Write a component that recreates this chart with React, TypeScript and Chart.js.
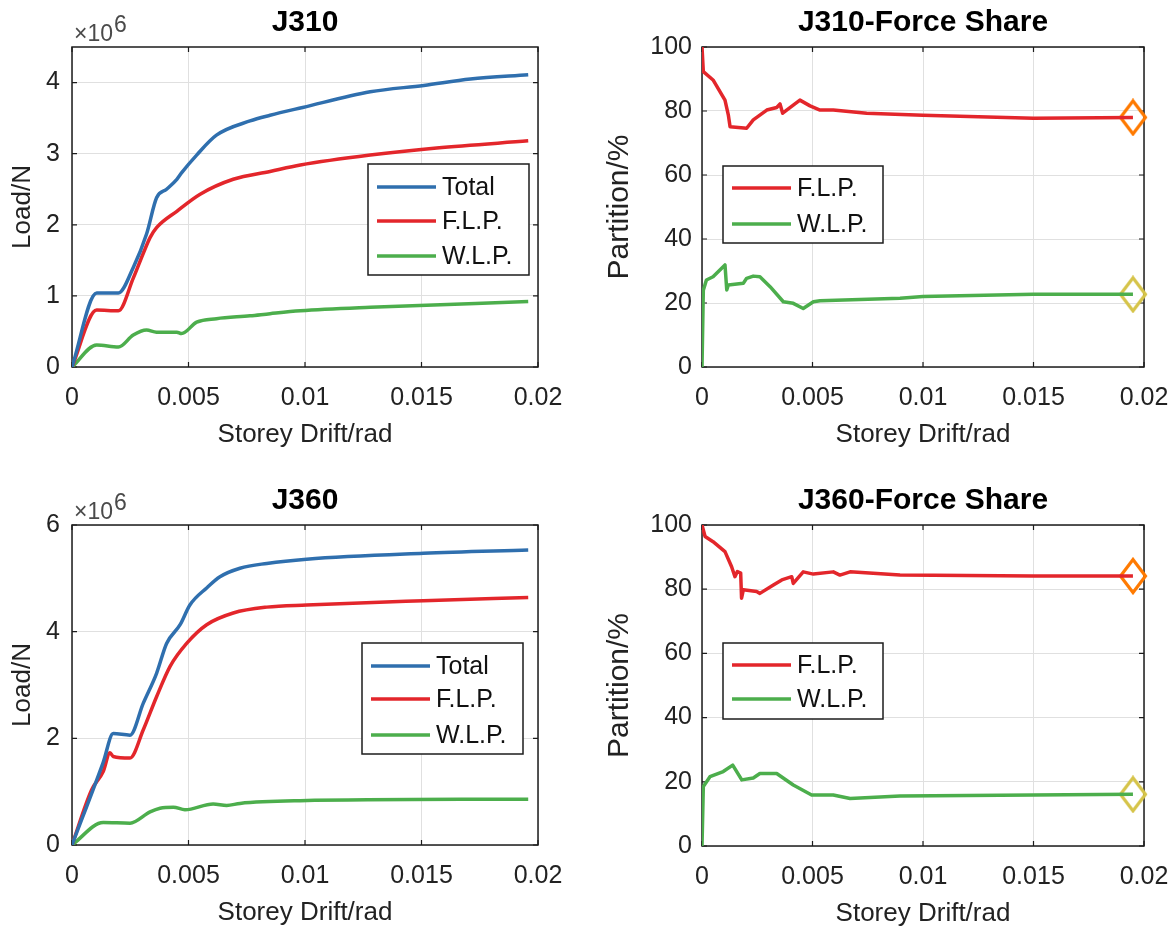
import React, { useEffect, useRef } from "react";
import { Chart, registerables } from "chart.js";

Chart.register(...registerables);

const FONT = "'Liberation Sans', Arial, Helvetica, sans-serif";

// ---------- colours ----------
const BLUE = "#2f6fae";
const RED = "#e3262b";
const GREEN = "#4cae4c";
const ORANGE = "#ff7a00";
const YELLOW = "#d6c44a";

// ---------- shared axis ticks ----------
const driftTicks = [0, 0.005, 0.01, 0.015, 0.02];
const driftTickLabels = ["0", "0.005", "0.01", "0.015", "0.02"];
const j310LoadTicks = [0, 1, 2, 3, 4];
const j360LoadTicks = [0, 2, 4, 6];
const shareTicks = [0, 20, 40, 60, 80, 100];

// ---------- J310 load (x10^6 N) ----------
const j310TotalDrift = [0, 0.00106, 0.00199, 0.00263, 0.0032, 0.00363, 0.00406, 0.0045, 0.0047, 0.00535, 0.0062, 0.00764, 0.0085, 0.0099, 0.0128, 0.0151, 0.0171, 0.01958];
const j310TotalLoad = [0, 1.04, 1.04, 1.4, 1.87, 2.38, 2.5, 2.64, 2.73, 2.98, 3.26, 3.46, 3.54, 3.65, 3.87, 3.96, 4.05, 4.11];
const j310FlpDrift = [0, 0.00106, 0.00199, 0.00263, 0.00306, 0.00335, 0.00363, 0.0045, 0.0055, 0.00692, 0.0085, 0.0098, 0.0128, 0.01565, 0.01958];
const j310FlpLoad = [0, 0.8, 0.79, 1.25, 1.6, 1.82, 1.96, 2.19, 2.43, 2.64, 2.75, 2.84, 2.98, 3.08, 3.18];
const j310WlpDrift = [0, 0.00106, 0.00199, 0.00263, 0.0032, 0.00363, 0.0045, 0.0047, 0.00535, 0.0062, 0.00764, 0.0085, 0.0098, 0.0128, 0.01958];
const j310WlpLoad = [0, 0.31, 0.28, 0.45, 0.52, 0.49, 0.49, 0.47, 0.63, 0.68, 0.72, 0.75, 0.79, 0.84, 0.92];

// ---------- J360 load (x10^6 N) ----------
const j360TotalDrift = [0, 0.00134, 0.00177, 0.00249, 0.00306, 0.00363, 0.00406, 0.00464, 0.00506, 0.00578, 0.00635, 0.00721, 0.00836, 0.01007, 0.01508, 0.01958];
const j360TotalLoad = [0, 1.55, 2.09, 2.06, 2.66, 3.22, 3.78, 4.13, 4.5, 4.82, 5.03, 5.19, 5.28, 5.36, 5.47, 5.53];
const j360FlpDrift = [0, 0.00084, 0.00134, 0.00163, 0.00177, 0.00249, 0.00306, 0.00363, 0.00421, 0.00492, 0.00578, 0.00692, 0.00836, 0.01007, 0.01508, 0.01958];
const j360FlpLoad = [0, 1.03, 1.38, 1.73, 1.66, 1.63, 2.16, 2.78, 3.35, 3.78, 4.13, 4.35, 4.46, 4.5, 4.58, 4.64];
const j360WlpDrift = [0, 0.00134, 0.00249, 0.00335, 0.00378, 0.00435, 0.00485, 0.00606, 0.00664, 0.00721, 0.0098, 0.01958];
const j360WlpLoad = [0, 0.42, 0.41, 0.62, 0.69, 0.71, 0.66, 0.77, 0.74, 0.78, 0.83, 0.86];

// ---------- J310 force share (%) ----------
const j310ShareFlpDrift = [0, 0.00006, 0.0005, 0.00104, 0.00119, 0.00127, 0.00202, 0.00232, 0.00293, 0.00338, 0.00353, 0.00365, 0.00383, 0.00443, 0.00489, 0.00534, 0.00594, 0.00745, 0.01, 0.015, 0.0195];
const j310ShareFlp = [100, 92.3, 89.7, 83.4, 78.8, 75.1, 74.6, 77.2, 80.3, 81.1, 82.2, 79.3, 80.3, 83.4, 81.6, 80.3, 80.3, 79.3, 78.7, 77.7, 78.0];
const j310ShareWlpDrift = [0, 0.00006, 0.0002, 0.0005, 0.00104, 0.00112, 0.00119, 0.00187, 0.00202, 0.00232, 0.00262, 0.00308, 0.00368, 0.00413, 0.00458, 0.00504, 0.00534, 0.00896, 0.01, 0.015, 0.0195];
const j310ShareWlp = [0, 24, 27.2, 28.2, 31.9, 24.1, 25.6, 26.2, 27.7, 28.4, 28.2, 25.1, 20.4, 19.9, 18.3, 20.4, 20.7, 21.5, 22.0, 22.7, 22.7];

// ---------- J360 force share (%) ----------
const j360ShareFlpDrift = [0, 0.00014, 0.0005, 0.00104, 0.00134, 0.00149, 0.0016, 0.00175, 0.00179, 0.00187, 0.00247, 0.00262, 0.00323, 0.00361, 0.00406, 0.00413, 0.00458, 0.00504, 0.00594, 0.00624, 0.0067, 0.00896, 0.015, 0.0195];
const j360ShareFlp = [100, 96.4, 94.8, 91.7, 87.0, 83.9, 85.5, 85.0, 77.2, 79.8, 79.3, 78.7, 81.3, 82.9, 83.9, 81.8, 85.4, 84.7, 85.4, 84.4, 85.4, 84.4, 84.1, 84.1];
const j360ShareWlpDrift = [0, 0.00006, 0.00036, 0.00096, 0.00139, 0.0018, 0.00232, 0.00262, 0.00338, 0.00413, 0.00496, 0.00594, 0.0067, 0.00896, 0.0195];
const j360ShareWlp = [0, 18.5, 21.6, 23.2, 25.2, 20.6, 21.2, 22.6, 22.6, 19.0, 15.9, 15.9, 14.8, 15.6, 16.1];

type Series = { label: string; drift: number[]; values: number[]; color: string };
type Marker = { series: Series; color: string };
type LegendBox = { x: number; y: number; w: number; h: number; rows: number[] };
type PanelProps = {
  left: number;
  top: number;
  width: number;
  height: number;
  area: { l: number; t: number; r: number; b: number };
  title: string;
  yTitle: string;
  yTitleSize: number;
  yTitlePad: number;
  yTickPad: number;
  yMax: number;
  yStep: number;
  yTicks: number[];
  exponent?: string;
  smooth?: boolean;
  series: Series[];
  markers?: Marker[];
  legend: LegendBox;
};

function diamond(color: string): HTMLCanvasElement {
  const c = document.createElement("canvas");
  c.width = 30;
  c.height = 38;
  const g = c.getContext("2d")!;
  g.strokeStyle = color;
  g.lineWidth = 3.2;
  g.lineJoin = "miter";
  g.beginPath();
  g.moveTo(15, 2.5);
  g.lineTo(27.5, 19);
  g.lineTo(15, 35.5);
  g.lineTo(2.5, 19);
  g.closePath();
  g.stroke();
  return c;
}

function Panel(p: PanelProps) {
  const ref = useRef<HTMLCanvasElement>(null);
  useEffect(() => {
    const canvas = ref.current!;
    const datasets: any[] = p.series.map((s) => ({
      label: s.label,
      data: s.drift.map((d, i) => ({ x: d, y: s.values[i] })),
      showLine: true,
      borderColor: s.color,
      backgroundColor: s.color,
      borderWidth: 3.5,
      pointRadius: 0,
      tension: p.smooth ? 0.4 : 0,
      cubicInterpolationMode: p.smooth ? "monotone" : "default",
      borderJoinStyle: "round",
      fill: false,
    }));
    (p.markers || []).forEach((m) => {
      const n = m.series.drift.length - 1;
      datasets.push({
        label: m.series.label + " end",
        data: [{ x: m.series.drift[n], y: m.series.values[n] }],
        showLine: false,
        pointStyle: diamond(m.color),
        pointRadius: 14,
        borderColor: m.color,
        backgroundColor: "rgba(0,0,0,0)",
        clip: false,
      });
    });

    const frame = {
      id: "frame",
      beforeDatasetsDraw(chart: any) {
        const { ctx, chartArea: a, scales } = chart;
        ctx.save();
        ctx.strokeStyle = "#1c1c1c";
        ctx.lineWidth = 1.5;
        ctx.strokeRect(a.left, a.top, a.right - a.left, a.bottom - a.top);
        ctx.lineWidth = 1.2;
        ctx.beginPath();
        driftTicks.forEach((v) => {
          const px = scales.x.getPixelForValue(v);
          ctx.moveTo(px, a.bottom);
          ctx.lineTo(px, a.bottom - 5);
          ctx.moveTo(px, a.top);
          ctx.lineTo(px, a.top + 5);
        });
        p.yTicks.forEach((v) => {
          const py = scales.y.getPixelForValue(v);
          ctx.moveTo(a.left, py);
          ctx.lineTo(a.left + 5, py);
          ctx.moveTo(a.right, py);
          ctx.lineTo(a.right - 5, py);
        });
        ctx.stroke();
        ctx.restore();
      },
      afterDraw(chart: any) {
        const { ctx, chartArea: a } = chart;
        ctx.save();
        // title
        ctx.fillStyle = "#000";
        ctx.font = `bold 30px ${FONT}`;
        ctx.textAlign = "center";
        ctx.textBaseline = "middle";
        ctx.fillText(p.title, (a.left + a.right) / 2, a.top - 24);
        // exponent
        if (p.exponent) {
          ctx.fillStyle = "#4a4a4a";
          ctx.font = `23px ${FONT}`;
          ctx.textAlign = "left";
          ctx.textBaseline = "alphabetic";
          const base = "\u00d710";
          ctx.fillText(base, a.left + 2, a.top - 6);
          const w = ctx.measureText(base).width;
          ctx.fillText(p.exponent, a.left + 2 + w + 1, a.top - 15);
        }
        // legend
        const L = p.legend;
        ctx.fillStyle = "#fff";
        ctx.fillRect(L.x, L.y, L.w, L.h);
        ctx.strokeStyle = "#1c1c1c";
        ctx.lineWidth = 1.5;
        ctx.strokeRect(L.x, L.y, L.w, L.h);
        p.series.forEach((s, i) => {
          const y = L.y + L.rows[i];
          ctx.strokeStyle = s.color;
          ctx.lineWidth = 3.5;
          ctx.beginPath();
          ctx.moveTo(L.x + 9, y);
          ctx.lineTo(L.x + 68, y);
          ctx.stroke();
          ctx.fillStyle = "#111";
          ctx.font = `25px ${FONT}`;
          ctx.textAlign = "left";
          ctx.textBaseline = "middle";
          ctx.fillText(s.label, L.x + 74, y + 1);
        });
        ctx.restore();
      },
    };

    const chart = new Chart(canvas, {
      type: "scatter",
      data: { datasets },
      options: {
        responsive: false,
        animation: false,
        events: [],
        layout: {
          padding: {
            left: 0,
            top: p.area.t,
            right: p.width - p.area.r,
            bottom: p.height - p.area.b - 83,
          },
        },
        plugins: { legend: { display: false }, tooltip: { enabled: false }, title: { display: false } },
        scales: {
          x: {
            type: "linear",
            min: 0,
            max: 0.02,
            border: { display: false },
            grid: { color: "#e0e0e0", lineWidth: 1, drawTicks: false },
            ticks: {
              stepSize: 0.005,
              autoSkip: false,
              maxRotation: 0,
              padding: 16,
              color: "#222",
              font: { family: FONT, size: 25 },
              callback: (v: any) => {
                const i = driftTicks.findIndex((t) => Math.abs(t - Number(v)) < 1e-9);
                return i >= 0 ? driftTickLabels[i] : "";
              },
            },
            title: {
              display: true,
              text: "Storey Drift/rad",
              color: "#222",
              font: { family: FONT, size: 26 },
              padding: { top: 0, bottom: 0 },
            },
            afterFit: (s: any) => {
              s.height = 83;
            },
          },
          y: {
            type: "linear",
            min: 0,
            max: p.yMax,
            border: { display: false },
            grid: { color: "#e0e0e0", lineWidth: 1, drawTicks: false },
            ticks: {
              stepSize: p.yStep,
              includeBounds: false,
              autoSkip: false,
              padding: p.yTickPad,
              color: "#222",
              font: { family: FONT, size: 25 },
              callback: (v: any) => String(v),
            },
            title: {
              display: true,
              text: p.yTitle,
              color: "#222",
              font: { family: FONT, size: p.yTitleSize },
              padding: { top: p.yTitlePad, bottom: 0 },
            },
            afterFit: (s: any) => {
              s.width = p.area.l;
            },
          },
        },
      } as any,
      plugins: [frame],
    });
    return () => chart.destroy();
  }, []);
  return (
    <canvas
      ref={ref}
      width={p.width}
      height={p.height}
      style={{ position: "absolute", left: p.left, top: p.top, width: p.width, height: p.height }}
    />
  );
}

const j310Total: Series = { label: "Total", drift: j310TotalDrift, values: j310TotalLoad, color: BLUE };
const j310Flp: Series = { label: "F.L.P.", drift: j310FlpDrift, values: j310FlpLoad, color: RED };
const j310Wlp: Series = { label: "W.L.P.", drift: j310WlpDrift, values: j310WlpLoad, color: GREEN };
const j360Total: Series = { label: "Total", drift: j360TotalDrift, values: j360TotalLoad, color: BLUE };
const j360Flp: Series = { label: "F.L.P.", drift: j360FlpDrift, values: j360FlpLoad, color: RED };
const j360Wlp: Series = { label: "W.L.P.", drift: j360WlpDrift, values: j360WlpLoad, color: GREEN };
const j310SFlp: Series = { label: "F.L.P.", drift: j310ShareFlpDrift, values: j310ShareFlp, color: RED };
const j310SWlp: Series = { label: "W.L.P.", drift: j310ShareWlpDrift, values: j310ShareWlp, color: GREEN };
const j360SFlp: Series = { label: "F.L.P.", drift: j360ShareFlpDrift, values: j360ShareFlp, color: RED };
const j360SWlp: Series = { label: "W.L.P.", drift: j360ShareWlpDrift, values: j360ShareWlp, color: GREEN };

export default function App() {
  return (
    <div style={{ position: "absolute", left: 0, top: 0, width: 1173, height: 928, background: "#fff", overflow: "hidden" }}>
      <Panel
        left={0} top={0} width={586} height={464}
        area={{ l: 72, t: 47, r: 538, b: 367 }}
        title="J310" yTitle="Load/N" yTitleSize={26} yTitlePad={7} yTickPad={12}
        yMax={4.5} yStep={1} yTicks={j310LoadTicks} exponent="6" smooth
        series={[j310Total, j310Flp, j310Wlp]}
        legend={{ x: 368, y: 164, w: 161, h: 111, rows: [23, 57, 92] }}
      />
      <Panel
        left={586} top={0} width={650} height={464}
        area={{ l: 116, t: 47, r: 558, b: 367 }}
        title="J310-Force Share" yTitle="Partition/%" yTitleSize={30} yTitlePad={16} yTickPad={10}
        yMax={100} yStep={20} yTicks={shareTicks}
        series={[j310SFlp, j310SWlp]}
        markers={[{ series: j310SFlp, color: ORANGE }, { series: j310SWlp, color: YELLOW }]}
        legend={{ x: 137, y: 166, w: 160, h: 77, rows: [22, 58] }}
      />
      <Panel
        left={0} top={464} width={586} height={464}
        area={{ l: 72, t: 61, r: 538, b: 381 }}
        title="J360" yTitle="Load/N" yTitleSize={26} yTitlePad={7} yTickPad={12}
        yMax={6} yStep={2} yTicks={j360LoadTicks} exponent="6" smooth
        series={[j360Total, j360Flp, j360Wlp]}
        legend={{ x: 362, y: 179, w: 161, h: 111, rows: [23, 56, 92] }}
      />
      <Panel
        left={586} top={464} width={650} height={464}
        area={{ l: 116, t: 61, r: 558, b: 382 }}
        title="J360-Force Share" yTitle="Partition/%" yTitleSize={30} yTitlePad={16} yTickPad={10}
        yMax={100} yStep={20} yTicks={shareTicks}
        series={[j360SFlp, j360SWlp]}
        markers={[{ series: j360SFlp, color: ORANGE }, { series: j360SWlp, color: YELLOW }]}
        legend={{ x: 137, y: 179, w: 160, h: 76, rows: [22, 56] }}
      />
    </div>
  );
}
